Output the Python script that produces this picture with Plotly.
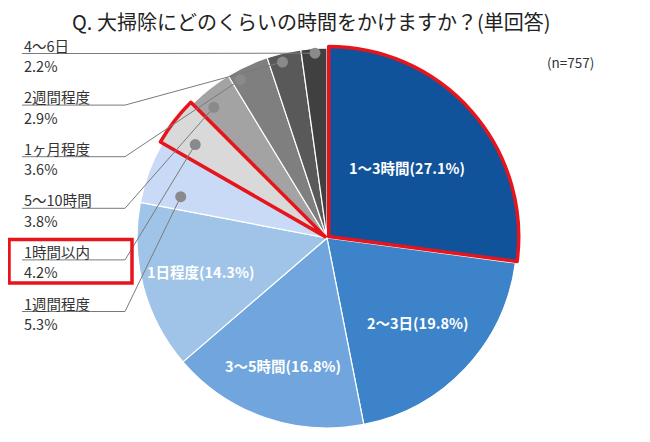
import math
import plotly.graph_objects as go

# ---------------- data ----------------
categories = ["1～3時間", "2～3日", "3～5時間", "1日程度", "1週間程度",
              "1時間以内", "5～10時間", "1ヶ月程度", "2週間程度", "4～6日"]
values = [27.1, 19.8, 16.8, 14.3, 5.3, 4.2, 3.8, 3.6, 2.9, 2.2]
colors = ["#11539a", "#3d83c9", "#70a6dd", "#9fc4e8", "#c8daf6",
          "#d9d9d9", "#a3a3a3", "#7f7f7f", "#595959", "#404040"]
highlight = ["1～3時間", "1時間以内"]
inside_labels = ["1～3時間", "2～3日", "3～5時間", "1日程度"]
outside_labels = ["4～6日", "2週間程度", "1ヶ月程度", "5～10時間", "1時間以内", "1週間程度"]
title = "Q. 大掃除にどのくらいの時間をかけますか？(単回答)"
note = "(n=757)"

# ---------------- layout parameters ----------------
OFF = 8                      # default page body margin
W, H = 650 - OFF, 442 - OFF  # figure size so the page fits the window
CX, CY, R = 327, 238, 190    # screen pixel geometry of the pie
PULL = 0.012
FONT = "Noto Sans CJK JP"
inside_r = [0.56, 0.65, 0.71, 0.69]
# position of the leader dot inside each outside-labelled slice (fraction along slice, radius fraction)
dot_pos = [(0.53, 0.975), (0.40, 0.955), (0.20, 0.95), (0.30, 0.91), (0.36, 0.85), (0.26, 0.80)]
LBL_X, UL_END = 22, 125
NAME_Y0, STEP = 45, 51.6


def px(x):
    return (x - OFF) / W


def py(y):
    return 1 - (y - OFF) / H


total = sum(values)
starts, ends = [], []
acc = 0.0
for v in values:
    starts.append(acc / total * 360)
    acc += v
    ends.append(acc / total * 360)


def point(angle_deg, rfrac):
    a = math.radians(angle_deg)
    return CX + rfrac * R * math.sin(a), CY - rfrac * R * math.cos(a)


Rd = R * (1 + PULL)
domain = dict(x=[px(CX - Rd), px(CX + Rd)], y=[py(CY + Rd), py(CY - Rd)])
pulls = [PULL if c in highlight else 0 for c in categories]

fig = go.Figure()
fig.add_trace(go.Pie(
    labels=categories, values=values, sort=False, direction="clockwise", rotation=0,
    marker=dict(colors=colors, line=dict(color="white", width=1.2)),
    textinfo="none", hoverinfo="label+percent", domain=domain, pull=pulls, showlegend=False,
))
fig.add_trace(go.Pie(
    labels=categories, values=values, sort=False, direction="clockwise", rotation=0,
    marker=dict(colors=["rgba(0,0,0,0)"] * len(values),
                line=dict(color=["#e8141b" if c in highlight else "rgba(0,0,0,0)" for c in categories],
                          width=[3.5 if c in highlight else 0 for c in categories])),
    textinfo="none", hoverinfo="skip", domain=domain, pull=pulls, showlegend=False,
))

annotations = []
shapes = []

# inside labels
for name, rf in zip(inside_labels, inside_r):
    i = categories.index(name)
    mid = (starts[i] + ends[i]) / 2
    x, y = point(mid, rf)
    annotations.append(dict(x=px(x), y=py(y), xref="paper", yref="paper", showarrow=False,
                            xanchor="center", yanchor="middle",
                            text=f"<b>{name}({values[i]}%)</b>",
                            font=dict(family=FONT, size=14.5, color="white")))

# outside labels with leader lines
for k, (name, (fr, rf)) in enumerate(zip(outside_labels, dot_pos)):
    i = categories.index(name)
    ang = starts[i] + fr * (ends[i] - starts[i])
    dx, dy = point(ang, rf)
    ny = NAME_Y0 + k * STEP
    uy = ny + 8.5
    pyy = ny + 20.5
    annotations.append(dict(x=px(LBL_X), y=py(ny), xref="paper", yref="paper", showarrow=False,
                            xanchor="left", yanchor="middle", text=name,
                            font=dict(family=FONT, size=14.5, color="#333333")))
    annotations.append(dict(x=px(LBL_X), y=py(pyy), xref="paper", yref="paper", showarrow=False,
                            xanchor="left", yanchor="middle", text=f"{values[i]}%",
                            font=dict(family=FONT, size=14.5, color="#333333")))
    shapes.append(dict(type="path", xref="paper", yref="paper",
                       path=f"M{px(LBL_X)},{py(uy)} L{px(UL_END)},{py(uy)} L{px(dx)},{py(dy)}",
                       line=dict(color="#7a7a7a", width=1), layer="above"))
    rdot = 5.5
    shapes.append(dict(type="circle", xref="paper", yref="paper",
                       x0=px(dx - rdot), x1=px(dx + rdot), y0=py(dy + rdot), y1=py(dy - rdot),
                       fillcolor="#8a8a8a", line=dict(width=0), layer="above"))
    if name in highlight:
        shapes.append(dict(type="rect", xref="paper", yref="paper",
                           x0=px(9), x1=px(132), y0=py(ny - 12), y1=py(pyy + 11),
                           line=dict(color="#e8141b", width=3.5), layer="above"))

annotations.append(dict(x=px(311), y=py(22), xref="paper", yref="paper", showarrow=False,
                        xanchor="center", yanchor="middle",
                        text=title, font=dict(family=FONT, size=20, color="#222222")))
annotations.append(dict(x=px(570), y=py(62), xref="paper", yref="paper", showarrow=False,
                        xanchor="center", yanchor="middle",
                        text=note, font=dict(family=FONT, size=13.5, color="#333333")))

fig.update_layout(width=W, height=H, margin=dict(l=0, r=0, t=0, b=0),
                  paper_bgcolor="white", plot_bgcolor="white", showlegend=False,
                  annotations=annotations, shapes=shapes)
fig.write_html("out.html")
